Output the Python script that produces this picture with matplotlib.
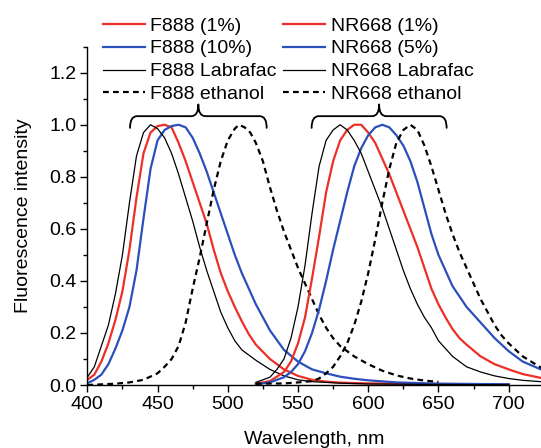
import matplotlib
matplotlib.use("Agg")
import matplotlib.pyplot as plt
from matplotlib.path import Path
from matplotlib.patches import PathPatch
from matplotlib.ticker import MultipleLocator, FormatStrFormatter

# F888 emission spectra (wavelength nm, normalised intensity)
f888_1_nm = [400, 405, 410, 415, 420, 425, 430, 435, 440, 445, 450, 455, 460, 465, 470, 475,
             480, 485, 490, 495, 500, 505, 510, 515, 520, 530, 540, 550, 560, 570, 580, 600,
             650, 700]
f888_1 = [0.02, 0.04, 0.09, 0.16, 0.25, 0.36, 0.52, 0.72, 0.89, 0.97, 0.995, 1.0, 0.99, 0.93,
          0.86, 0.78, 0.70, 0.62, 0.52, 0.43, 0.36, 0.30, 0.245, 0.195, 0.155, 0.10, 0.06,
          0.035, 0.02, 0.013, 0.009, 0.006, 0.004, 0.003]

f888_10_nm = [400, 405, 410, 415, 420, 425, 430, 435, 440, 445, 450, 455, 460, 465, 470, 475,
              480, 485, 490, 495, 500, 505, 510, 515, 520, 530, 540, 550, 560, 570, 580, 590,
              600, 620, 650, 700]
f888_10 = [0.007, 0.02, 0.04, 0.08, 0.14, 0.21, 0.30, 0.44, 0.64, 0.83, 0.94, 0.98, 0.995,
           1.0, 0.99, 0.95, 0.89, 0.82, 0.74, 0.66, 0.58, 0.50, 0.43, 0.37, 0.31, 0.21, 0.135,
           0.09, 0.06, 0.045, 0.032, 0.024, 0.018, 0.01, 0.005, 0.003]

f888_lab_nm = [400, 405, 410, 415, 420, 425, 430, 435, 440, 445, 450, 455, 460, 465, 470, 475,
               480, 485, 490, 495, 500, 505, 510, 515, 520, 530, 540, 550, 560, 580, 600, 650,
               700]
f888_lab = [0.03, 0.07, 0.15, 0.23, 0.35, 0.50, 0.70, 0.88, 0.97, 1.0, 0.985, 0.95, 0.89,
            0.81, 0.72, 0.63, 0.53, 0.44, 0.36, 0.28, 0.22, 0.17, 0.135, 0.115, 0.095, 0.06,
            0.035, 0.02, 0.013, 0.007, 0.004, 0.002, 0.001]

f888_eth_nm = [400, 420, 430, 440, 450, 455, 460, 465, 470, 475, 480, 485, 490, 495, 500, 505,
               508, 512, 516, 520, 525, 530, 535, 540, 545, 550, 555, 560, 565, 570, 575, 580,
               590, 600, 610, 620, 630, 640, 650]
f888_eth = [0.0, 0.005, 0.01, 0.02, 0.045, 0.07, 0.10, 0.15, 0.24, 0.37, 0.49, 0.62, 0.75,
            0.86, 0.94, 0.985, 1.0, 0.99, 0.97, 0.93, 0.86, 0.76, 0.67, 0.59, 0.52, 0.45, 0.39,
            0.33, 0.27, 0.22, 0.18, 0.15, 0.11, 0.08, 0.055, 0.037, 0.025, 0.017, 0.012]

# NR668 emission spectra
nr_1_nm = [520, 530, 540, 545, 550, 555, 560, 565, 570, 575, 580, 585, 590, 595, 600, 605, 610,
           615, 620, 625, 630, 635, 640, 645, 650, 655, 660, 665, 670, 680, 690, 700, 710, 725]
nr_1 = [0.005, 0.015, 0.05, 0.09, 0.16, 0.26, 0.41, 0.57, 0.74, 0.86, 0.94, 0.98, 1.0, 1.0,
        0.97, 0.93, 0.87, 0.81, 0.74, 0.67, 0.60, 0.53, 0.45, 0.37, 0.31, 0.26, 0.215, 0.18,
        0.155, 0.11, 0.08, 0.06, 0.042, 0.025]

nr_5_nm = [520, 530, 540, 545, 550, 555, 560, 565, 570, 575, 580, 585, 590, 595, 600, 605, 610,
           615, 620, 625, 630, 635, 640, 645, 650, 655, 660, 665, 670, 680, 690, 700, 710, 725]
nr_5 = [0.003, 0.01, 0.03, 0.05, 0.08, 0.13, 0.20, 0.29, 0.40, 0.52, 0.63, 0.74, 0.84, 0.91,
        0.96, 0.99, 1.0, 0.99, 0.96, 0.92, 0.86, 0.78, 0.68, 0.58, 0.50, 0.44, 0.38, 0.34, 0.30,
        0.24, 0.18, 0.13, 0.09, 0.055]

nr_lab_nm = [520, 530, 535, 540, 545, 550, 555, 560, 565, 570, 575, 580, 585, 590, 595, 600,
             605, 610, 615, 620, 625, 630, 635, 640, 645, 650, 660, 670, 680, 690, 700, 710, 725]
nr_lab = [0.01, 0.03, 0.06, 0.10, 0.18, 0.30, 0.46, 0.66, 0.84, 0.94, 0.98, 1.0, 0.98, 0.94,
          0.89, 0.82, 0.75, 0.68, 0.60, 0.52, 0.44, 0.37, 0.31, 0.26, 0.22, 0.17, 0.11, 0.07,
          0.05, 0.035, 0.025, 0.018, 0.012]

nr_eth_nm = [520, 540, 550, 560, 565, 570, 575, 580, 585, 590, 595, 600, 605, 610, 615, 620,
             625, 630, 635, 640, 645, 650, 655, 660, 665, 670, 675, 680, 685, 690, 695, 700,
             710, 725]
nr_eth = [0.005, 0.006, 0.01, 0.015, 0.025, 0.045, 0.07, 0.11, 0.16, 0.23, 0.32, 0.43, 0.56,
          0.70, 0.83, 0.93, 0.98, 1.0, 0.98, 0.92, 0.84, 0.75, 0.66, 0.58, 0.51, 0.45, 0.39,
          0.33, 0.28, 0.23, 0.19, 0.16, 0.11, 0.06]

# brace spans over each group (nm)
brace_f888 = (430.4, 527.7)
brace_nr = (559.7, 655.8)

RED = "#ec2f27"
BLUE = "#2b4fbb"


def draw_brace(ax, x0, x1, y_end=0.988, y_bar=1.033, y_tip=1.078, d=5.0):
    xc = (x0 + x1) / 2
    verts = [
        (x0, y_end), (x0, y_bar), (x0 + d, y_bar),
        (xc - d, y_bar),
        (xc, y_bar), (xc, y_tip),
        (xc, y_bar), (xc + d, y_bar),
        (x1 - d, y_bar),
        (x1, y_bar), (x1, y_end),
    ]
    codes = [Path.MOVETO, Path.CURVE3, Path.CURVE3, Path.LINETO,
             Path.CURVE3, Path.CURVE3, Path.CURVE3, Path.CURVE3,
             Path.LINETO, Path.CURVE3, Path.CURVE3]
    ax.add_patch(PathPatch(Path(verts, codes), fill=False, lw=1.3, color="black",
                           capstyle="round", joinstyle="round"))


def main() -> None:
    plt.rcParams["font.family"] = ["Liberation Sans", "DejaVu Sans"]
    plt.rcParams["font.size"] = 14

    fig = plt.figure(figsize=(5.41, 4.48), dpi=100)
    ax = fig.add_axes([0.1614, 0.1406, 1.0 - 0.1614, 0.8958 - 0.1406])

    dash = (0, (2.6, 1.9))
    thick = 1.6
    thin = 0.9

    l1, = ax.plot(f888_1_nm, f888_1, color=RED, lw=thick, label="F888 (1%)")
    l2, = ax.plot(f888_10_nm, f888_10, color=BLUE, lw=thick, label="F888 (10%)")
    l3, = ax.plot(f888_lab_nm, f888_lab, color="black", lw=thin, label="F888 Labrafac")
    l4, = ax.plot(f888_eth_nm, f888_eth, color="black", lw=thick, ls=dash, label="F888 ethanol")
    m1, = ax.plot(nr_1_nm, nr_1, color=RED, lw=thick, label="NR668 (1%)")
    m2, = ax.plot(nr_5_nm, nr_5, color=BLUE, lw=thick, label="NR668 (5%)")
    m3, = ax.plot(nr_lab_nm, nr_lab, color="black", lw=thin, label="NR668 Labrafac")
    m4, = ax.plot(nr_eth_nm, nr_eth, color="black", lw=thick, ls=dash, label="NR668 ethanol")

    draw_brace(ax, *brace_f888)
    draw_brace(ax, *brace_nr)

    ax.set_xlim(400, 723)
    ax.set_ylim(0, 1.3)
    ax.set_xticks([400, 450, 500, 550, 600, 650, 700])
    ax.xaxis.set_minor_locator(MultipleLocator(25))
    ax.set_yticks([0.0, 0.2, 0.4, 0.6, 0.8, 1.0, 1.2])
    ax.yaxis.set_minor_locator(MultipleLocator(0.1))
    ax.yaxis.set_major_formatter(FormatStrFormatter("%.1f"))
    ax.tick_params(which="major", direction="out", length=5, width=1.0, pad=3)
    ax.tick_params(which="minor", direction="out", length=3, width=1.0)
    for side in ("top", "right"):
        ax.spines[side].set_visible(False)
    for side in ("left", "bottom"):
        ax.spines[side].set_linewidth(1.0)

    ax.set_xlabel("Wavelength, nm", labelpad=13)
    ax.set_ylabel("Fluorescence intensity", labelpad=12)

    fig.legend(handles=[l1, l2, l3, l4, m1, m2, m3, m4], ncol=2, frameon=False,
               loc="upper left", bbox_to_anchor=(103 / 541, 1 - 17 / 448),
               borderpad=0, borderaxespad=0, handlelength=2.15, handletextpad=0.28,
               columnspacing=0.35, labelspacing=0.27)

    fig.savefig("out.png", dpi=100)


if __name__ == "__main__":
    main()
